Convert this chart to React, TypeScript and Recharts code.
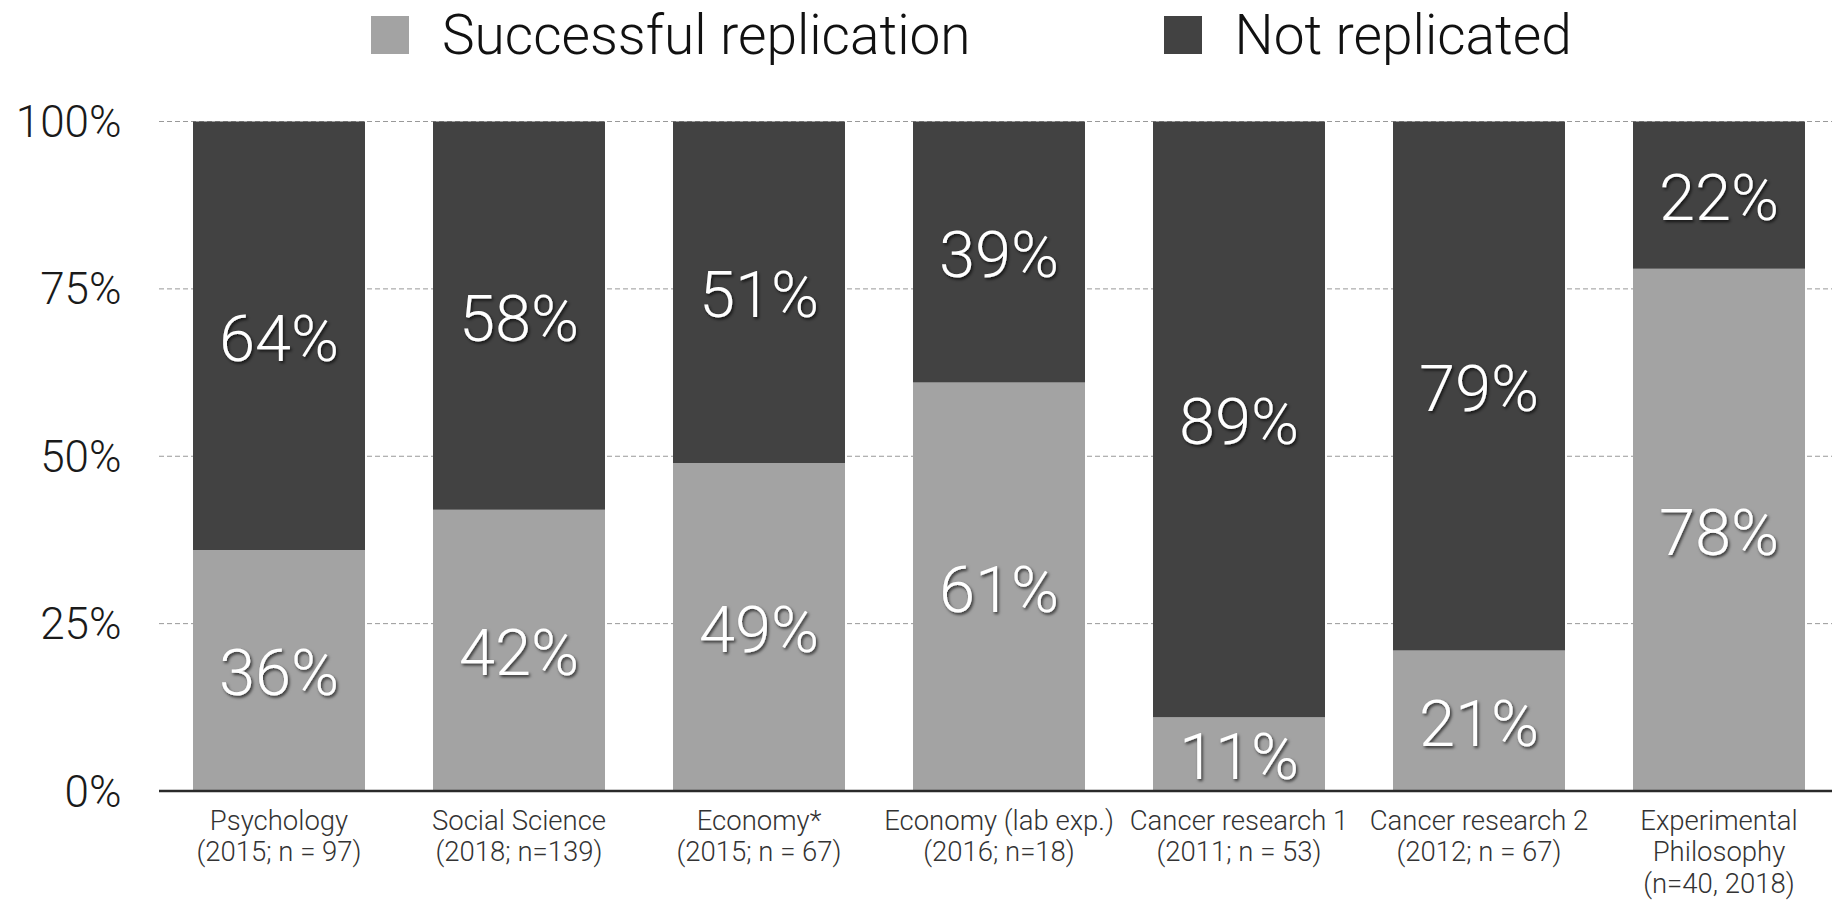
import { BarChart, Bar, XAxis, YAxis, CartesianGrid, Legend, LabelList } from "recharts";

const categories = [
  "Psychology\n(2015; n = 97)",
  "Social Science\n(2018; n=139)",
  "Economy*\n(2015; n = 67)",
  "Economy (lab exp.)\n(2016; n=18)",
  "Cancer research 1\n(2011; n = 53)",
  "Cancer research 2\n(2012; n = 67)",
  "Experimental\nPhilosophy\n(n=40, 2018)",
];
const replicated = [36, 42, 49, 61, 11, 21, 78];
const notReplicated = [64, 58, 51, 39, 89, 79, 22];
const seriesNames = ["Successful replication", "Not replicated"];
const yTicks = [0, 25, 50, 75, 100];

const FONT = "Roboto, 'Helvetica Neue', Arial, sans-serif";
const LIGHT = "#a3a3a3";
const DARK = "#424242";

const rows = categories.map((name, i) => ({
  name,
  replicated: replicated[i],
  notReplicated: notReplicated[i],
}));

const CategoryTick = (props: any) => {
  const { x, y, payload } = props;
  const lines = String(payload.value).split("\n");
  return (
    <text
      x={x}
      y={y}
      textAnchor="middle"
      fill="#333"
      fontSize={27.5}
      fontFamily={FONT}
      fontWeight={300}
    >
      {lines.map((line, i) => (
        <tspan key={i} x={x} dy={i === 0 ? 38.5 : 31.5}>
          {line}
        </tspan>
      ))}
    </text>
  );
};

const renderValue = (props: any) => {
  const box = props.viewBox ?? props;
  const { x, y, width, height } = box;
  return (
    <text
      x={x + width / 2}
      y={y + height / 2}
      dy={3}
      textAnchor="middle"
      dominantBaseline="central"
      fill="#fff"
      fontSize={65}
      fontFamily={FONT}
      fontWeight={300}
      filter="url(#valueShadow)"
    >
      {`${props.value}%`}
    </text>
  );
};

// legend keeps the series order, not recharts' alphabetical sort
const LegendContent = (props: any) => {
  const items = [...(props.payload ?? [])].sort(
    (a: any, b: any) => seriesNames.indexOf(a.value) - seriesNames.indexOf(b.value)
  );
  return (
    <div
      style={{
        height: 70,
        display: "flex",
        alignItems: "center",
        paddingLeft: 371,
        fontFamily: FONT,
        fontWeight: 300,
        fontSize: 55,
        color: "#111",
      }}
    >
      {items.map((item: any, i: number) => (
        <div
          key={item.value}
          style={{ display: "flex", alignItems: "center", marginRight: i === 0 ? 193 : 0 }}
        >
          <span style={{ width: 38, height: 38, background: item.color, marginRight: 33 }} />
          <span>{item.value}</span>
        </div>
      ))}
    </div>
  );
};

export default function App() {
  return (
    <div
      style={{
        position: "fixed",
        top: 0,
        left: 0,
        width: 1832,
        height: 901,
        overflow: "hidden",
        background: "#fff",
      }}
    >
      <BarChart
        width={1845}
        height={901}
        data={rows}
        barSize={172}
        margin={{ top: 51.5, right: 6, bottom: 0, left: 0 }}
      >
        <defs>
          <filter id="valueShadow" x="-20%" y="-20%" width="140%" height="140%">
            <feDropShadow dx={1.5} dy={2} stdDeviation={1.5} floodColor="#000" floodOpacity={0.7} />
          </filter>
        </defs>
        <Legend
          verticalAlign="top"
          content={LegendContent}
          wrapperStyle={{ top: 0, left: 0, width: 1832, margin: 0 }}
        />
        <CartesianGrid vertical={false} stroke="#999" strokeDasharray="5 3" />
        <XAxis
          dataKey="name"
          interval={0}
          height={110}
          tickSize={0}
          tickMargin={0}
          tick={CategoryTick}
          axisLine={{ stroke: "#2a2a2a", strokeWidth: 2.5 }}
        />
        <YAxis
          width={159}
          domain={[0, 100]}
          ticks={yTicks}
          tickFormatter={(v) => `${v}%`}
          axisLine={false}
          tickLine={false}
          tickSize={0}
          tickMargin={37.5}
          tick={{ fill: "#1a1a1a", fontSize: 44, fontFamily: FONT, fontWeight: 300 }}
        />
        <Bar
          dataKey="replicated"
          name={seriesNames[0]}
          stackId="share"
          fill={LIGHT}
          isAnimationActive={false}
        >
          <LabelList dataKey="replicated" content={renderValue} />
        </Bar>
        <Bar
          dataKey="notReplicated"
          name={seriesNames[1]}
          stackId="share"
          fill={DARK}
          isAnimationActive={false}
        >
          <LabelList dataKey="notReplicated" content={renderValue} />
        </Bar>
      </BarChart>
    </div>
  );
}
